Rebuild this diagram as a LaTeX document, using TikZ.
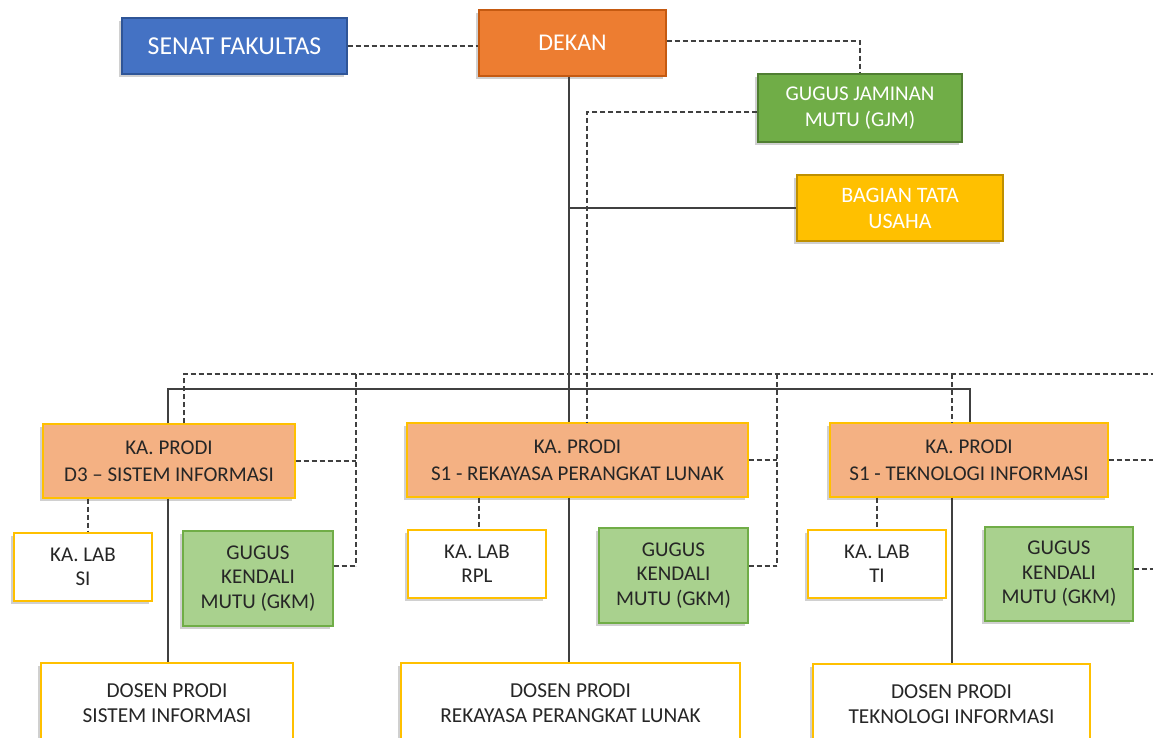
\documentclass[tikz,border=0pt]{standalone}
\usepackage{fontspec}
\setmainfont{Carlito}
\usetikzlibrary{shadows,calc}
\definecolor{lineC}{HTML}{404040}
\definecolor{txtC}{HTML}{262626}
\definecolor{blueF}{HTML}{4472C4}\definecolor{blueD}{HTML}{2F5597}
\definecolor{orgF}{HTML}{ED7D31}\definecolor{orgD}{HTML}{C55A11}
\definecolor{grnF}{HTML}{70AD47}\definecolor{grnD}{HTML}{507E32}
\definecolor{yelF}{HTML}{FFC000}\definecolor{yelD}{HTML}{BF9000}
\definecolor{prodF}{HTML}{F4B183}
\definecolor{gkmF}{HTML}{A9D18E}
\tikzset{
  box/.style={rectangle, align=center, line width=1.2pt, inner sep=2pt,
    drop shadow={shadow xshift=-3pt, shadow yshift=-3pt, opacity=0.3, fill=black!60}},
  topbox/.style={box, text=white, font=\fontsize{21}{26}\selectfont},
  lowbox/.style={box, text=txtC, font=\fontsize{21}{24.5}\selectfont},
  prodbox/.style={lowbox, fill=prodF, draw=yelF, font=\fontsize{21}{27}\selectfont},
  labbox/.style={lowbox, fill=white, draw=yelF},
  gkmbox/.style={lowbox, fill=gkmF, draw=grnF},
  dosenbox/.style={lowbox, fill=white, draw=yelF, font=\fontsize{21.3}{25}\selectfont},
  solidln/.style={draw=lineC, line width=1.2pt},
  dashln/.style={draw=lineC, line width=1.2pt, dash pattern=on 5pt off 3pt},
}
\begin{document}
\begin{tikzpicture}[x=1pt,y=-1pt]
\useasboundingbox (0,0) rectangle (1153,738);
\fill[white] (0,0) rectangle (1153,738);
\clip (0,0) rectangle (1153,738);
% top level
\node[topbox, fill=blueF, draw=blueD, minimum width=225pt, minimum height=56pt, font=\fontsize{25.8}{28}\selectfont] (senat) at (234.5,46) {SENAT FAKULTAS};
\node[topbox, fill=orgF, draw=orgD, minimum width=187pt, minimum height=66pt, font=\fontsize{24}{28}\selectfont] (dekan) at (572.5,43) {DEKAN};
\node[topbox, fill=grnF, draw=grnD, minimum width=204pt, minimum height=68pt, text depth=3pt] (gjm) at (860,108) {GUGUS JAMINAN\\MUTU (GJM)};
\node[topbox, fill=yelF, draw=yelD, minimum width=206pt, minimum height=66pt, font=\fontsize{22}{26}\selectfont] (btu) at (900,208) {BAGIAN TATA\\USAHA};
% prodi
\node[prodbox, minimum width=252pt, minimum height=74pt] (p1) at (169,461) {KA. PRODI\\D3 -- SISTEM INFORMASI};
\node[prodbox, minimum width=341pt, minimum height=74pt] (p2) at (577.5,460) {KA. PRODI\\S1 - REKAYASA PERANGKAT LUNAK};
\node[prodbox, minimum width=278pt, minimum height=74pt] (p3) at (969,460) {KA. PRODI\\S1 - TEKNOLOGI INFORMASI};
% labs and gkm
\node[labbox, minimum width=138pt, minimum height=68pt] (lab1) at (83,567) {KA. LAB\\SI};
\node[gkmbox, minimum width=150pt, minimum height=95pt] (gkm1) at (258,578.5) {GUGUS\\KENDALI\\MUTU (GKM)};
\node[labbox, minimum width=138pt, minimum height=68pt] (lab2) at (477,564) {KA. LAB\\RPL};
\node[gkmbox, minimum width=149pt, minimum height=95pt] (gkm2) at (673.5,575.5) {GUGUS\\KENDALI\\MUTU (GKM)};
\node[labbox, minimum width=138pt, minimum height=68pt] (lab3) at (877,564) {KA. LAB\\TI};
\node[gkmbox, minimum width=148pt, minimum height=94pt] (gkm3) at (1059,574) {GUGUS\\KENDALI\\MUTU (GKM)};
% dosen
\node[dosenbox, minimum width=252pt, minimum height=80pt] (d1) at (167,703) {DOSEN PRODI\\SISTEM INFORMASI};
\node[dosenbox, minimum width=339pt, minimum height=80pt] (d2) at (570.5,703) {DOSEN PRODI\\REKAYASA PERANGKAT LUNAK};
\node[dosenbox, minimum width=277pt, minimum height=80pt] (d3) at (951.5,704) {DOSEN PRODI\\TEKNOLOGI INFORMASI};
% helper coordinates
\coordinate (tr) at (569,389);
\coordinate (hL) at (168,389);
\coordinate (hR) at (970,389);
\coordinate (dL) at (184,374);
\coordinate (dEnd) at (1160,374);
\coordinate (v1) at (356,374);
\coordinate (v2) at (777,374);
\coordinate (v3) at (952,374);
\coordinate (gv) at (587,112);
\coordinate (eR) at (1160,0);
\coordinate (l1) at (88,0);
\coordinate (l2) at (479,0);
\coordinate (l3) at (877,0);
\coordinate (s3) at (952,0);
% dashed connectors
\draw[dashln] (senat.east) -- (senat.east -| dekan.west);
\draw[dashln] ([yshift=2pt]dekan.east) -| (gjm.north);
\draw[dashln] (gjm.west |- gv) -- (gv) -- (gv |- p2.north);
\draw[dashln] (dL |- p1.north) -- (dL) -- (dEnd);
\draw[dashln] (v1) -- (v1 |- 0,566);
\draw[dashln] (p1.east) -- (p1.east -| v1);
\draw[dashln] ([yshift=12.5pt]gkm1.east) -- ([yshift=12.5pt]gkm1.east -| v1);
\draw[dashln] (v2) -- (v2 |- 0,566);
\draw[dashln] (p2.east) -- (p2.east -| v2);
\draw[dashln] ([yshift=9.5pt]gkm2.east) -- ([yshift=9.5pt]gkm2.east -| v2);
\draw[dashln] (v3) -- (v3 |- p3.north);
\draw[dashln] (p3.east) -- (p3.east -| eR);
\draw[dashln] ([yshift=5pt]gkm3.east) -- ([yshift=5pt]gkm3.east -| eR);
\draw[dashln] (l1 |- p1.south) -- (l1 |- lab1.north);
\draw[dashln] (l2 |- p2.south) -- (l2 |- lab2.north);
\draw[dashln] (l3 |- p3.south) -- (l3 |- lab3.north);
% solid connectors
\draw[solidln] (tr |- dekan.south) -- (tr |- p2.north);
\draw[solidln] (tr |- btu.west) -- (btu.west);
\draw[solidln] (hL |- p1.north) -- (hL) -- (hR) -- (hR |- p3.north);
\draw[solidln] (hL |- p1.south) -- (hL |- d1.north);
\draw[solidln] (tr |- p2.south) -- (tr |- d2.north);
\draw[solidln] (s3 |- p3.south) -- (s3 |- d3.north);
\end{tikzpicture}
\end{document}
